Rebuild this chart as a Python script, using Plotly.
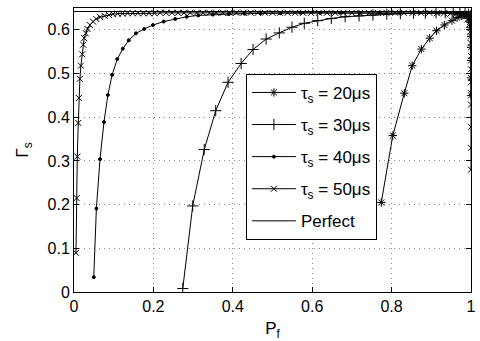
import plotly.graph_objects as go

# ---- data ----
pf20 = [0.774, 0.803, 0.832, 0.852, 0.875, 0.896, 0.913, 0.933, 0.952, 0.965,
        0.975, 0.983, 0.989, 0.993, 0.996, 0.998, 0.999, 1.0, 1.0, 1.0, 1.0, 1.0]
g20 = [0.205, 0.358, 0.455, 0.518, 0.556, 0.581, 0.598, 0.611, 0.621, 0.628,
       0.632, 0.634, 0.634, 0.632, 0.627, 0.618, 0.605, 0.585, 0.56, 0.53, 0.49, 0.45]

pf30 = [0.274, 0.299, 0.328, 0.357, 0.388, 0.421, 0.451, 0.484, 0.517, 0.549,
        0.580, 0.614, 0.648, 0.683, 0.718, 0.753, 0.788, 0.822, 0.855, 0.885,
        0.912, 0.935, 0.955, 0.972, 0.985, 0.994, 0.999]
g30 = [0.008, 0.197, 0.326, 0.415, 0.480, 0.523, 0.555, 0.579, 0.593, 0.606,
       0.615, 0.621, 0.626, 0.630, 0.632, 0.634, 0.636, 0.637, 0.638, 0.638,
       0.639, 0.639, 0.639, 0.639, 0.638, 0.636, 0.632]

pf40 = [0.0498, 0.0564, 0.0655, 0.0755, 0.0854, 0.096, 0.109, 0.123, 0.138, 0.156,
        0.177, 0.199, 0.226, 0.255, 0.284, 0.313, 0.35, 0.39, 0.43, 0.47,
        0.52, 0.57, 0.62, 0.67, 0.72, 0.77, 0.82, 0.87, 0.92, 0.96, 0.99]
g40 = [0.034, 0.191, 0.304, 0.389, 0.451, 0.497, 0.533, 0.557, 0.576, 0.592,
       0.602, 0.611, 0.619, 0.625, 0.630, 0.633, 0.635, 0.636, 0.637, 0.638,
       0.638, 0.639, 0.639, 0.639, 0.639, 0.639, 0.639, 0.639, 0.639, 0.639, 0.638]

pf50 = [0.005, 0.0066, 0.0083, 0.0108, 0.0124, 0.0149, 0.0174, 0.0207, 0.0232, 0.0257,
        0.0299, 0.034, 0.040, 0.048, 0.056, 0.066, 0.077, 0.088, 0.098, 0.11,
        0.122, 0.135, 0.148, 0.161, 0.175, 0.189, 0.203, 0.217, 0.232, 0.247,
        0.262, 0.277, 0.293, 0.309, 0.325, 0.341, 0.358, 0.375, 0.392, 0.409,
        0.427, 0.445, 0.463, 0.481, 0.5, 0.519, 0.538, 0.557, 0.577, 0.597,
        0.617, 0.637, 0.658, 0.679, 0.7, 0.721, 0.743, 0.765, 0.787, 0.809,
        0.831, 0.853, 0.874, 0.895, 0.914, 0.932, 0.948, 0.962, 0.974, 0.984,
        0.991, 0.996, 0.998, 0.999, 1.0, 1.0, 1.0, 1.0, 1.0, 1.0, 1.0, 1.0]
g50 = [0.0896, 0.215, 0.310, 0.387, 0.444, 0.488, 0.518, 0.544, 0.566, 0.581,
       0.592, 0.602, 0.611, 0.619, 0.625, 0.629, 0.632, 0.634, 0.636, 0.637,
       0.637, 0.638, 0.638, 0.638, 0.638, 0.638, 0.638, 0.639, 0.639, 0.639,
       0.639, 0.639, 0.639, 0.639, 0.639, 0.639, 0.639, 0.639, 0.639, 0.639,
       0.639, 0.639, 0.639, 0.639, 0.639, 0.639, 0.639, 0.639, 0.639, 0.639,
       0.639, 0.639, 0.639, 0.639, 0.639, 0.639, 0.639, 0.639, 0.639, 0.639,
       0.639, 0.639, 0.639, 0.639, 0.638, 0.638, 0.637, 0.636, 0.634, 0.630,
       0.624, 0.612, 0.595, 0.57, 0.54, 0.51, 0.48, 0.455, 0.429, 0.378, 0.330, 0.280]

perfect_pf = [0.0, 1.0]
perfect_g = [0.642, 0.642]

names = ["τ<sub>s</sub> = 20μs", "τ<sub>s</sub> = 30μs", "τ<sub>s</sub> = 40μs",
         "τ<sub>s</sub> = 50μs", "Perfect"]
xticks = [0, 0.2, 0.4, 0.6, 0.8, 1]
yticks = [0, 0.1, 0.2, 0.3, 0.4, 0.5, 0.6]

FONT = "Liberation Sans, Arial, Helvetica, sans-serif"
fig = go.Figure()

series = [
    (pf20, g20, "asterisk-open", 7),
    (pf30, g30, "cross-thin-open", 8),
    (pf40, g40, "circle", 3),
    (pf50, g50, "x-thin-open", 6),
]
for i, (xs, ys, sym, sz) in enumerate(series):
    fig.add_trace(go.Scatter(
        x=xs, y=ys, mode="lines+markers", name=names[i], legendgroup=f"g{i}",
        line=dict(color="black", width=1),
        marker=dict(symbol=sym, size=sz, color="black", line=dict(color="black", width=1)),
    ))
fig.add_trace(go.Scatter(
    x=perfect_pf, y=perfect_g, mode="lines", name=names[4], legendgroup="g4",
    line=dict(color="black", width=1),
))

axis_common = dict(
    showline=True, linecolor="black", linewidth=1, mirror="ticks",
    ticks="inside", ticklen=5, tickcolor="black",
    showgrid=True, gridcolor="#888", gridwidth=1, griddash="1px,4px",
    zeroline=False, tickfont=dict(family=FONT, size=16, color="black"),
    ticklabeloverflow="allow",
)
fig.update_xaxes(range=[0, 1], tickvals=xticks, ticktext=[str(v) for v in xticks],
                 title=dict(text="P<sub>f</sub>", font=dict(family=FONT, size=17, color="black"), standoff=8),
                 **axis_common)
fig.update_yaxes(range=[0, 0.65], tickvals=yticks, ticktext=[str(v) for v in yticks],
                 title=dict(text="Γ<sub>s</sub>", font=dict(family=FONT, size=17, color="black"), standoff=14),
                 **axis_common)

fig.update_layout(
    width=480, height=341,
    margin=dict(l=74, r=4, t=8, b=49),
    paper_bgcolor="white", plot_bgcolor="white",
    showlegend=True,
    legend=dict(x=0.433, y=0.768, xanchor="left", yanchor="top",
                bordercolor="black", borderwidth=1, bgcolor="white",
                font=dict(family=FONT, size=17, color="black"),
                tracegroupgap=7, itemwidth=44),
    font=dict(family=FONT, color="black"),
)

fig.write_html("out.html", config={"displayModeBar": False},
               post_script="document.body.style.margin='0';document.body.style.padding='0';")
